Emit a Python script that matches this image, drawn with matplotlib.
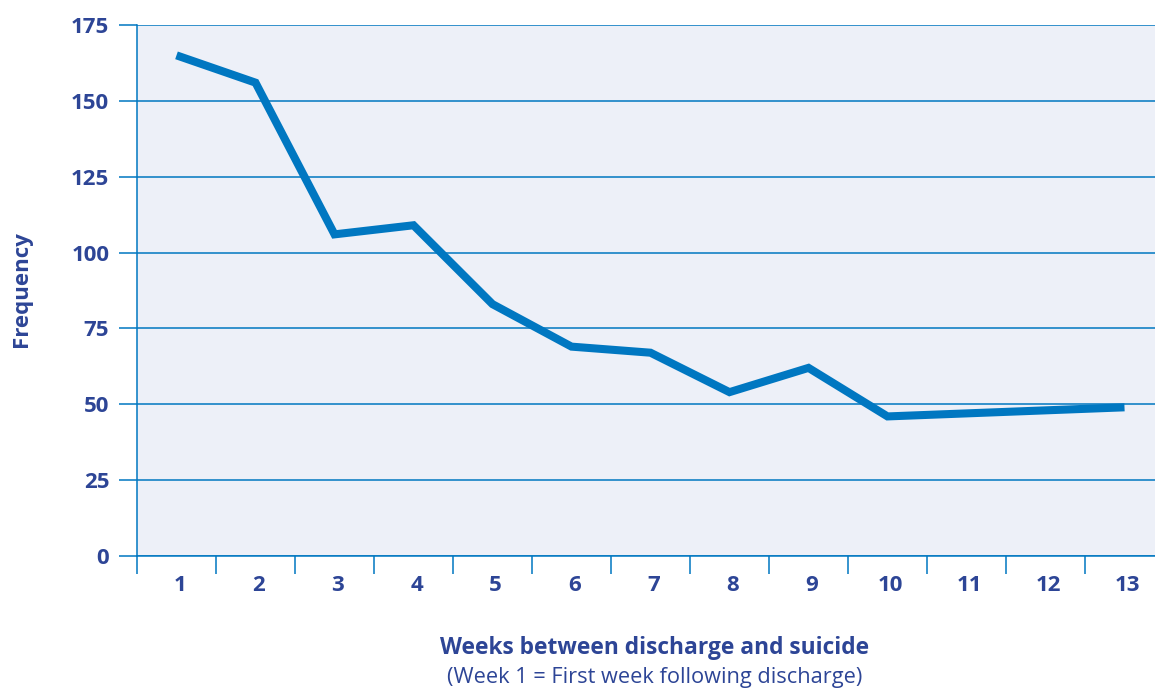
import matplotlib
matplotlib.use("Agg")
from matplotlib import pyplot as plt

weeks = list(range(1, 14))
week_labels = [str(w) for w in weeks]
frequency = [165, 156, 106, 109, 83, 69, 67, 54, 62, 46, 47, 48, 49]

BLUE = "#0077c1"
TEXT = "#2d4596"
BG = "#edf0f8"

plt.rcParams['font.family'] = ['Open Sans', 'DejaVu Sans']

fig = plt.figure(figsize=(11.55, 6.88), dpi=100)
ax = fig.add_axes([137 / 1155, (688 - 556) / 688, 1 - 137 / 1155, (556 - 25) / 688])
ax.set_facecolor(BG)

ax.plot(weeks, frequency, color=BLUE, lw=5.8, solid_capstyle='butt', solid_joinstyle='miter', zorder=3)

ax.set_xlim(0.5, 0.5 + (1155 - 137) / 79)
ax.set_ylim(0, 175)

# y axis: gridlines + ticks
ax.set_yticks(range(0, 176, 25))
ax.yaxis.grid(True, color=BLUE, lw=1.1)
ax.tick_params(axis='y', length=13, width=1.1, color=BLUE, pad=7,
               labelsize=16, labelcolor=TEXT)
for lbl in ax.get_yticklabels():
    lbl.set_fontweight('bold')

# x axis: ticks at category boundaries, labels at centres
ax.set_xticks([w - 0.5 for w in weeks])
ax.set_xticklabels([])
ax.set_xticks([w + 0.04 for w in weeks], minor=True)
ax.set_xticklabels(week_labels, minor=True, fontweight='bold', fontsize=16, color=TEXT)
ax.tick_params(axis='x', which='major', length=13, width=1.1, color=BLUE)
ax.tick_params(axis='x', which='minor', length=0, pad=14)

for side in ['top', 'right']:
    ax.spines[side].set_visible(False)
ax.spines['left'].set_color(BLUE)
ax.spines['left'].set_linewidth(1.1)
ax.spines['bottom'].set_color(BLUE)
ax.spines['bottom'].set_linewidth(1.1)
ax.set_axisbelow(True)

fig.text(22 / 1155, 1 - 289 / 688, 'Frequency', rotation=90, ha='center', va='center',
         fontsize=16, fontweight='bold', color=TEXT)
fig.text(655 / 1155, 1 - 648 / 688, 'Weeks between discharge and suicide', ha='center',
         va='center', fontsize=16.4, fontweight='bold', color=TEXT)
fig.text(655 / 1155, 1 - 677 / 688, '(Week 1 = First week following discharge)', ha='center',
         va='center', fontsize=15.7, color=TEXT)

fig.savefig('out.png', dpi=100)
